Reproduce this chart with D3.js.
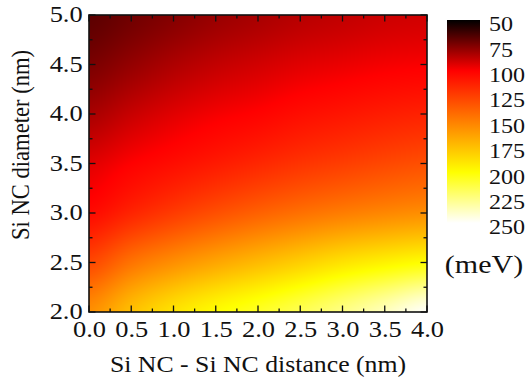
<!DOCTYPE html>
<html>
<head>
<meta charset="utf-8">
<script src="https://cdn.jsdelivr.net/npm/d3@7"></script>
<style>
  html, body { margin: 0; padding: 0; background: #fff; }
  svg { display: block; }
</style>
</head>
<body>
<svg id="chart" width="525" height="383"></svg>
<script>
// Si NC - Si NC distance (nm), columns of the energy grid
const distances = [0.0, 0.5, 1.0, 1.5, 2.0, 2.5, 3.0, 3.5, 4.0];
// Si NC diameter (nm), rows of the energy grid (top to bottom)
const diameters = [5.0, 4.5, 4.0, 3.5, 3.0, 2.5, 2.0];
// Energy (meV) for each diameter row across the distances
const energyRows = [
  [ 68,  72,  76,  80,  83,  86,  88,  90,  91],
  [ 74,  79,  84,  88,  91,  94,  96,  98,  99],
  [ 83,  89,  94,  98, 101, 105, 108, 111, 113],
  [ 94, 100, 105, 110, 115, 120, 124, 128, 131],
  [104, 114, 123, 131, 138, 144, 149, 153, 156],
  [128, 145, 156, 165, 173, 181, 189, 195, 200],
  [156, 175, 189, 199, 207, 216, 226, 237, 249]
];
const xTickValues = [0.0, 0.5, 1.0, 1.5, 2.0, 2.5, 3.0, 3.5, 4.0];
const yTickValues = [2.0, 2.5, 3.0, 3.5, 4.0, 4.5, 5.0];
const colorTickValues = [50, 75, 100, 125, 150, 175, 200, 225, 250];

const FONT = "'Liberation Serif', 'Times New Roman', Times, 'DejaVu Serif', serif";
const svg = d3.select("#chart").attr("font-family", FONT);
const plot = { left: 89, right: 427, top: 15, bottom: 312 };

const x = d3.scaleLinear().domain([0, 4]).range([plot.left, plot.right]);
const y = d3.scaleLinear().domain([2, 5]).range([plot.bottom, plot.top]);
const color = d3.scaleLinear()
  .domain([50, 100, 200, 250])
  .range(["#000000", "#ff0000", "#ffff00", "#ffffff"])
  .clamp(true);

// Smooth (Catmull-Rom) sampling of the energy grid
function catmull(p0, p1, p2, p3, t) {
  return 0.5 * (2 * p1 + (-p0 + p2) * t + (2 * p0 - 5 * p1 + 4 * p2 - p3) * t * t +
    (-p0 + 3 * p1 - 3 * p2 + p3) * t * t * t);
}
const nx = distances.length, ny = diameters.length;
const dStep = distances[1] - distances[0];
const diamStep = diameters[0] - diameters[1];
function at(i, j) {
  i = Math.max(0, Math.min(nx - 1, i));
  j = Math.max(0, Math.min(ny - 1, j));
  return energyRows[j][i];
}
function sample(dist, diam) {
  const fi = Math.max(0, Math.min(nx - 1 - 1e-9, (dist - distances[0]) / dStep));
  const fj = Math.max(0, Math.min(ny - 1 - 1e-9, (diameters[0] - diam) / diamStep));
  const i = Math.floor(fi), j = Math.floor(fj);
  const tx = fi - i, ty = fj - j;
  const rows = [];
  for (let k = -1; k <= 2; k++) {
    rows.push(catmull(at(i - 1, j + k), at(i, j + k), at(i + 1, j + k), at(i + 2, j + k), tx));
  }
  return catmull(rows[0], rows[1], rows[2], rows[3], ty);
}

// Heat map raster
const w = plot.right - plot.left, h = plot.bottom - plot.top;
const canvas = document.createElement("canvas");
canvas.width = w; canvas.height = h;
const ctx = canvas.getContext("2d");
const img = ctx.createImageData(w, h);
for (let py = 0; py < h; py++) {
  const diam = y.invert(plot.top + py + 0.5);
  for (let px = 0; px < w; px++) {
    const dist = x.invert(plot.left + px + 0.5);
    const c = d3.rgb(color(sample(dist, diam)));
    const k = (py * w + px) * 4;
    img.data[k] = c.r; img.data[k + 1] = c.g; img.data[k + 2] = c.b; img.data[k + 3] = 255;
  }
}
ctx.putImageData(img, 0, 0);
svg.append("image")
  .attr("x", plot.left).attr("y", plot.top)
  .attr("width", w).attr("height", h)
  .attr("preserveAspectRatio", "none")
  .attr("href", canvas.toDataURL());

// Inward ticks on all four sides
const xMinor = d3.range(0, 4.001, 0.25);
const yMinor = d3.range(2, 5.001, 0.25);
const isMajor = v => Math.abs(v * 2 - Math.round(v * 2)) < 1e-6;
const tickG = svg.append("g").attr("stroke", "#111").attr("stroke-width", 1.3);
[plot.bottom, plot.top].forEach((yy, s) => {
  tickG.selectAll(null).data(xMinor).enter().append("line")
    .attr("x1", d => x(d)).attr("x2", d => x(d))
    .attr("y1", yy)
    .attr("y2", d => yy + (s === 0 ? -1 : 1) * (isMajor(d) ? 6.5 : 3.5));
});
[plot.left, plot.right].forEach((xx, s) => {
  tickG.selectAll(null).data(yMinor).enter().append("line")
    .attr("y1", d => y(d)).attr("y2", d => y(d))
    .attr("x1", xx)
    .attr("x2", d => xx + (s === 0 ? 1 : -1) * (isMajor(d) ? 6.5 : 3.5));
});

// Frame
svg.append("rect")
  .attr("x", plot.left).attr("y", plot.top).attr("width", w).attr("height", h)
  .attr("fill", "none").attr("stroke", "#111").attr("stroke-width", 1.6);

// Axis labels
const fmt = d3.format(".1f");
const xAxis = svg.append("g")
  .attr("transform", `translate(0,${plot.bottom})`)
  .call(d3.axisBottom(x).tickValues(xTickValues).tickSize(0).tickFormat(fmt));
xAxis.attr("font-family", FONT).attr("font-size", 23);
xAxis.select(".domain").remove();
xAxis.selectAll("text")
  .attr("y", 25.5).attr("dy", null)
  .attr("fill", "#111")
  .attr("transform", "scale(1.15,1)");

const yAxis = svg.append("g")
  .attr("transform", `translate(${plot.left},0)`)
  .call(d3.axisLeft(y).tickValues(yTickValues).tickSize(0).tickFormat(fmt));
yAxis.attr("font-family", FONT).attr("font-size", 23);
yAxis.select(".domain").remove();
yAxis.selectAll("text")
  .attr("x", -5.5).attr("dy", "0.3em")
  .attr("fill", "#111")
  .attr("transform", "scale(1.15,1)");

svg.append("text")
  .attr("transform", `translate(${(plot.left + plot.right) / 2},372) scale(1.14,1)`)
  .attr("text-anchor", "middle").attr("font-size", 22.6).attr("fill", "#111")
  .text("Si NC - Si NC distance (nm)");

svg.append("text")
  .attr("transform", "translate(29,145) rotate(-90) scale(1,1.1)")
  .attr("text-anchor", "middle").attr("font-size", 22.6).attr("fill", "#111")
  .text("Si NC diameter (nm)");

// Colour bar
const cb = { x: 447, width: 33, top: 20, bottom: 223 };
const cbY = d3.scaleLinear().domain([50, 250]).range([cb.top, cb.bottom]);
const grad = svg.append("defs").append("linearGradient")
  .attr("id", "cbGrad").attr("x1", 0).attr("y1", 0).attr("x2", 0).attr("y2", 1);
grad.selectAll("stop").data(color.domain()).enter().append("stop")
  .attr("offset", d => (cbY(d) - cb.top) / (cb.bottom - cb.top))
  .attr("stop-color", d => color(d));
svg.append("rect")
  .attr("x", cb.x).attr("y", cb.top)
  .attr("width", cb.width).attr("height", cb.bottom - cb.top)
  .attr("fill", "url(#cbGrad)");

const cAxis = svg.append("g")
  .attr("transform", "translate(489,0)")
  .call(d3.axisRight(cbY).tickValues(colorTickValues).tickSize(0).tickPadding(0));
cAxis.attr("font-family", FONT).attr("font-size", 21.5);
cAxis.select(".domain").remove();
cAxis.selectAll("text")
  .attr("x", 0).attr("dy", "0.5em")
  .attr("fill", "#111")
  .attr("transform", "scale(1.12,1)");

svg.append("text")
  .attr("transform", "translate(484,273) scale(1.2,1)")
  .attr("text-anchor", "middle").attr("font-size", 25).attr("fill", "#111")
  .text("(meV)");
</script>
</body>
</html>
